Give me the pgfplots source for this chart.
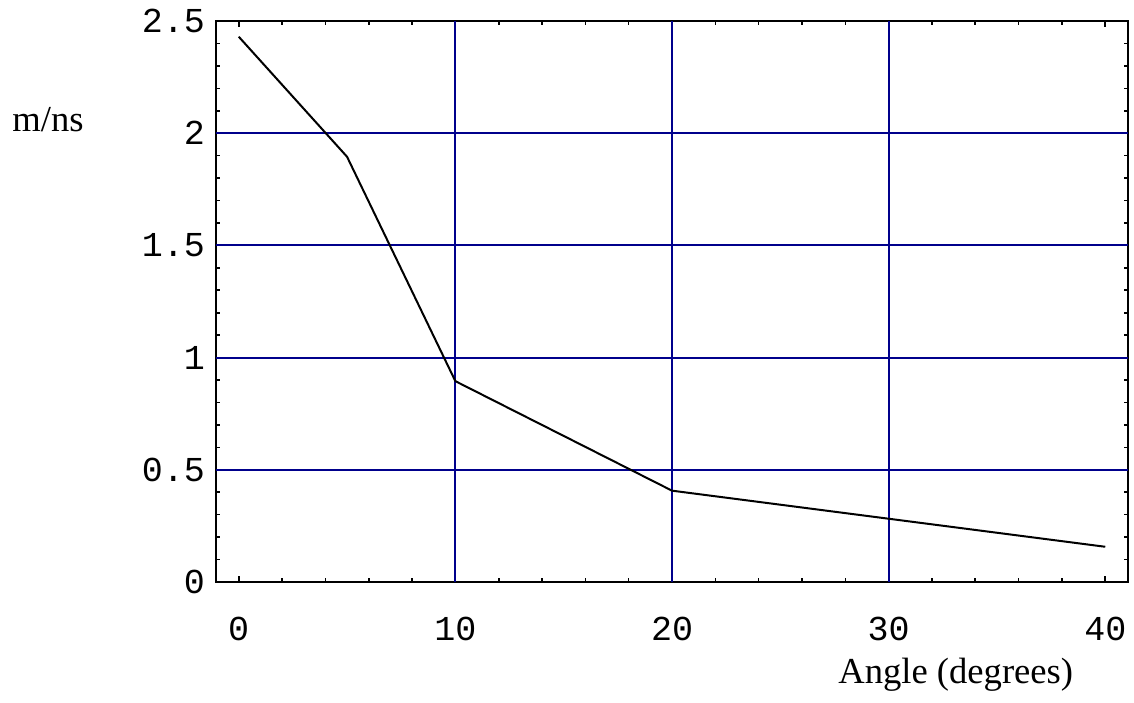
\documentclass[border=0pt]{standalone}
\usepackage{fontspec}
\setmainfont{Liberation Serif}
\newfontfamily\cour{Liberation Mono}
\usepackage{pgfplots}
\pgfplotsset{compat=1.18}
\definecolor{gridblue}{RGB}{0,0,140}
\begin{document}
\begin{tikzpicture}
\useasboundingbox (-108pt,-60pt) rectangle (459pt,291pt);
\begin{axis}[
  at={(0pt,0pt)}, anchor=south west,
  scale only axis, width=456pt, height=280.5pt,
  xmin=-1.05, xmax=41.05, ymin=0, ymax=2.5,
  xtick={0,10,20,30,40}, xticklabels={0,10,20,30,40},
  ytick={0,0.5,1,1.5,2,2.5}, yticklabels={0,0.5,1,1.5,2,2.5},
  minor x tick num=4, minor y tick num=4,
  tick align=inside, tick pos=both, ticklabel pos=left,
  major tick length=3pt, minor tick length=2pt,
  tick style={black, line width=0.8pt},
  axis line style={line width=1pt},
  xticklabel style={font=\cour\fontsize{17.5}{17.5}\selectfont, yshift=-14pt},
  yticklabel style={font=\cour\fontsize{17.5}{17.5}\selectfont, xshift=-2pt},
  extra x ticks={10,20,30}, extra x tick labels={},
  extra y ticks={0.5,1,1.5,2}, extra y tick labels={},
  extra tick style={grid=major, major tick length=0pt,
    major grid style={gridblue, line width=1pt}},
  clip=false,
]
\addplot[black, line width=1pt] coordinates {
  (0,2.43) (5,1.895) (10,0.895) (20,0.407) (30,0.282) (40,0.157)
};
\end{axis}
\node[anchor=base west, font=\fontsize{18.3}{18.3}\selectfont, inner sep=0pt] at (-102pt,225pt) {m/ns};
\node[anchor=base west, font=\fontsize{18.3}{18.3}\selectfont, inner sep=0pt] at (311pt,-50.5pt) {Angle (degrees)};
\end{tikzpicture}
\end{document}
